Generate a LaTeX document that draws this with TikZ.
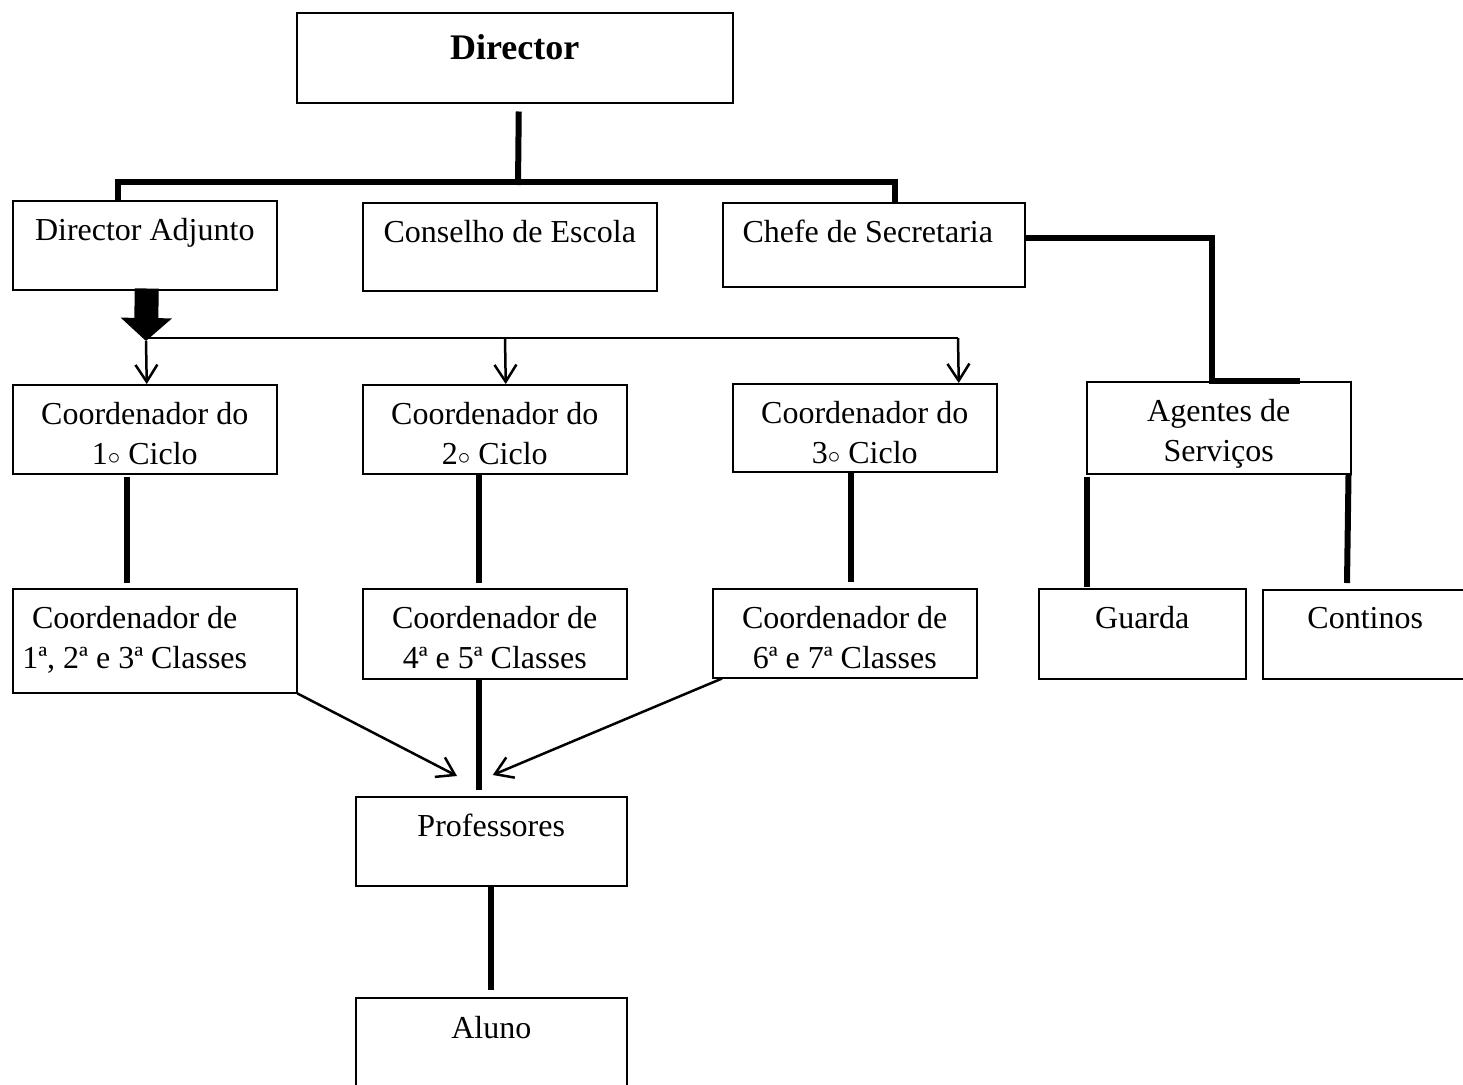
\documentclass[tikz,border=0pt]{standalone}
\usepackage{fontspec}
\setmainfont{Liberation Serif}
\usetikzlibrary{arrows.meta}
\begin{document}
\begin{tikzpicture}[x=1pt,y=-1pt,
  boxst/.style={draw=black,line width=1.5pt,rectangle,inner sep=0pt,anchor=north west},
  txt/.style={anchor=north,inner sep=0pt,align=center,font=\fontsize{32}{40}\selectfont},
  thk/.style={line width=6pt},
  thn/.style={line width=2.5pt},
  thnarr/.style={line width=2.5pt,-{Straight Barb[length=17pt,width=22pt]}}]
\useasboundingbox (0,0) rectangle (1463,1084);
\begin{scope}
\clip (0,0) rectangle (1463,1084);
% boxes
\node[boxst,minimum width=436pt,minimum height=90pt] (dir) at (296,12) {};
\node[boxst,minimum width=264pt,minimum height=89pt] (adj) at (12,200) {};
\node[boxst,minimum width=294pt,minimum height=88pt] (cons) at (362,202) {};
\node[boxst,minimum width=302pt,minimum height=84pt] (chefe) at (722,202) {};
\node[boxst,minimum width=264pt,minimum height=89pt] (c1) at (12,384) {};
\node[boxst,minimum width=264pt,minimum height=89pt] (c2) at (362,384) {};
\node[boxst,minimum width=264pt,minimum height=88pt] (c3) at (732,383) {};
\node[boxst,minimum width=264pt,minimum height=92pt] (ag) at (1086,381) {};
\node[boxst,minimum width=284pt,minimum height=104pt] (k1) at (12,588) {};
\node[boxst,minimum width=264pt,minimum height=90pt] (k2) at (362,588) {};
\node[boxst,minimum width=264pt,minimum height=89pt] (k3) at (712,588) {};
\node[boxst,minimum width=207pt,minimum height=90pt] (gu) at (1038,588) {};
\node[boxst,minimum width=205pt,minimum height=89pt] (co) at (1262,589) {};
\node[boxst,minimum width=271pt,minimum height=89pt] (pr) at (355,796) {};
\node[boxst,minimum width=271pt,minimum height=92pt] (al) at (355,997) {};
% texts
\node[txt,font=\fontsize{36}{42}\selectfont\bfseries] (dir-t) at ([yshift=-22pt]dir.north) {Director};
\node[txt] (adj-t) at ([yshift=-18pt]adj.north) {Director Adjunto};
\node[txt] (cons-t) at ([yshift=-18pt]cons.north) {Conselho de Escola};
\node[txt] (chefe-t) at ([xshift=-6pt,yshift=-18pt]chefe.north) {Chefe de Secretaria};
\node[txt] (c1-t) at ([yshift=-18pt]c1.north) {Coordenador do\\1$\circ$ Ciclo};
\node[txt] (c2-t) at ([yshift=-18pt]c2.north) {Coordenador do\\2$\circ$ Ciclo};
\node[txt] (c3-t) at ([yshift=-18pt]c3.north) {Coordenador do\\3$\circ$ Ciclo};
\node[txt] (ag-t) at ([yshift=-18pt]ag.north) {Agentes de\\Serviços};
\node[txt] (k1-t) at ([xshift=-20pt,yshift=-18pt]k1.north) {Coordenador de\\1ª, 2ª e 3ª Classes};
\node[txt] (k2-t) at ([yshift=-18pt]k2.north) {Coordenador de\\4ª e 5ª Classes};
\node[txt] (k3-t) at ([yshift=-18pt]k3.north) {Coordenador de\\6ª e 7ª Classes};
\node[txt] (gu-t) at ([yshift=-18pt]gu.north) {Guarda};
\node[txt] (co-t) at ([yshift=-18pt]co.north) {Continos};
\node[txt] (pr-t) at ([yshift=-18pt]pr.north) {Professores};
\node[txt] (al-t) at ([yshift=-19pt]al.north) {Aluno};
% connectors
\coordinate (bar) at (518,182);
\draw[thk] ([xshift=4pt,yshift=-8pt]dir.south) -- ([yshift=-3pt]bar);
\draw[thk] ([xshift=106pt]adj.north west) |- (bar) -| ([xshift=173pt]chefe.north west);
\draw[thk] ([yshift=7pt]chefe.east) -| ([xshift=126pt]ag.north west) -- ([xshift=214pt]ag.north west);
\draw[thk] ([xshift=1pt,yshift=-2pt]ag.south west) -- ([xshift=49pt,yshift=1pt]gu.north west);
\draw[thk] ([xshift=-3pt]ag.south east) -- ([xshift=85pt,yshift=6pt]co.north west);
\draw[thk] ([xshift=-18pt,yshift=-2pt]c1.south) -- ([xshift=-28pt,yshift=5pt]k1.north);
\draw[thk] ([xshift=-16pt]c2.south) -- ([xshift=-16pt,yshift=5pt]k2.north);
\draw[thk] ([xshift=-14pt]c3.south) -- ([xshift=6pt,yshift=6pt]k3.north);
\draw[thk] ([xshift=-16pt]k2.south) -- ([xshift=-12.5pt,yshift=6pt]pr.north);
\draw[thk] (pr.south) -- ([yshift=7pt]al.north);
% big arrow
\coordinate (tip) at (146,341);
\draw[line width=24pt,-{Triangle[width=50pt,length=23pt]}] ([xshift=2pt,yshift=2pt]adj.south) -- (tip);
\coordinate (hl) at (146,338);
\coordinate (hm) at (505,338);
\coordinate (hr) at (958,338);
\draw[thn] (hl) -- (hr);
\draw[thnarr] (tip) -- ([xshift=2pt]c1.north);
\draw[thnarr] (hm) -- ([xshift=11pt]c2.north);
\draw[thnarr] (hr) -- ([xshift=94pt]c3.north);
% diagonal arrows
\draw[thnarr] (k1.south east) -- ([xshift=102pt,yshift=20pt]pr.north west);
\draw[thnarr] ([xshift=10pt]k3.south west) -- ([xshift=1.5pt,yshift=21pt]pr.north);
\end{scope}
\end{tikzpicture}
\end{document}
